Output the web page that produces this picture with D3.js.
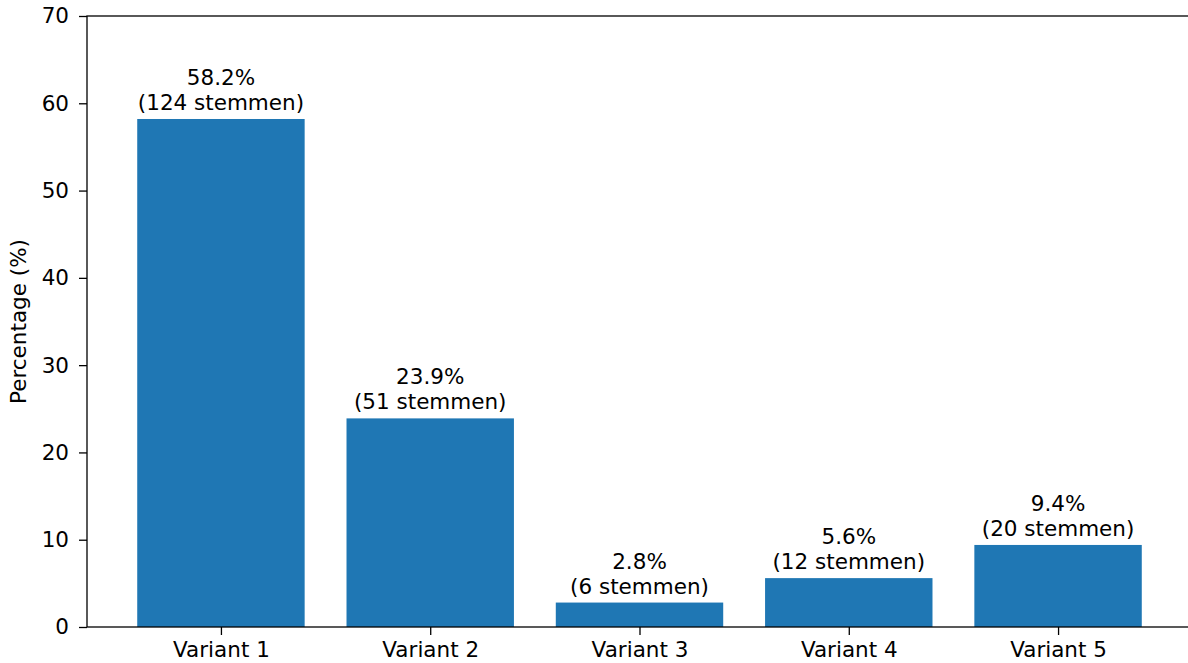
<!DOCTYPE html>
<html>
<head>
<meta charset="utf-8">
<script src="https://cdn.jsdelivr.net/npm/d3@7"></script>
<style>
  body { margin: 0; background: #fff; }
  svg text { font-family: "DejaVu Sans", sans-serif; fill: #000; }
</style>
</head>
<body>
<div id="viz"></div>
<script>
const categories = ['Variant 1', 'Variant 2', 'Variant 3', 'Variant 4', 'Variant 5'];
const percentages = [58.2, 23.9, 2.8, 5.6, 9.4];
const votes = [124, 51, 6, 12, 20];
const yTicks = [0, 10, 20, 30, 40, 50, 60, 70];

const width = 1188;
const height = 663;
const margin = {top: 16, left: 87, bottom: 36};
const plotRight = 1192; // axes run past the edge of the picture
const fontSize = '21.5px';

const svg = d3.select('#viz')
  .append('svg')
  .attr('width', width)
  .attr('height', height);

const x = d3.scaleLinear().domain([-0.64, categories.length - 1 + 0.64]).range([margin.left, plotRight]);
const y = d3.scaleLinear().domain([0, 70]).range([height - margin.bottom, margin.top]);
const barWidth = x(0.8) - x(0);

// bars
svg.selectAll('rect.bar')
  .data(percentages)
  .join('rect')
  .attr('class', 'bar')
  .attr('x', (d, i) => x(i) - barWidth / 2)
  .attr('y', d => y(d))
  .attr('width', barWidth)
  .attr('height', d => y(0) - y(d))
  .attr('fill', '#1f77b4');

// value labels
const labels = svg.selectAll('text.val')
  .data(percentages)
  .join('text')
  .attr('class', 'val')
  .attr('text-anchor', 'middle')
  .style('font-size', fontSize);
labels.append('tspan')
  .attr('x', (d, i) => x(i))
  .attr('y', d => y(d) - 34)
  .text(d => d.toFixed(1) + '%');
labels.append('tspan')
  .attr('x', (d, i) => x(i))
  .attr('y', d => y(d) - 9)
  .text((d, i) => '(' + votes[i] + ' stemmen)');

// axes
const xAxis = d3.axisBottom(x)
  .tickValues(d3.range(categories.length))
  .tickFormat(i => categories[i])
  .tickSize(8)
  .tickPadding(7);
const yAxis = d3.axisLeft(y)
  .tickValues(yTicks)
  .tickSize(8)
  .tickPadding(10);

const gx = svg.append('g').attr('transform', `translate(0,${y(0)})`).call(xAxis);
const gy = svg.append('g').attr('transform', `translate(${margin.left},0)`).call(yAxis);
[gx, gy].forEach(g => {
  g.select('.domain').remove();
  g.selectAll('.tick line').attr('stroke', '#000').attr('stroke-width', 1.3);
  g.selectAll('.tick text').style('font-size', fontSize).style('font-family', '"DejaVu Sans", sans-serif').attr('fill', '#000');
});

// spines
svg.append('rect')
  .attr('x', margin.left)
  .attr('y', y(70))
  .attr('width', plotRight - margin.left)
  .attr('height', y(0) - y(70))
  .attr('fill', 'none')
  .attr('stroke', '#000')
  .attr('stroke-width', 1.3);

// y label
svg.append('text')
  .attr('transform', `translate(26,${(y(0) + y(70)) / 2}) rotate(-90)`)
  .attr('text-anchor', 'middle')
  .style('font-size', fontSize)
  .text('Percentage (%)');
</script>
</body>
</html>
